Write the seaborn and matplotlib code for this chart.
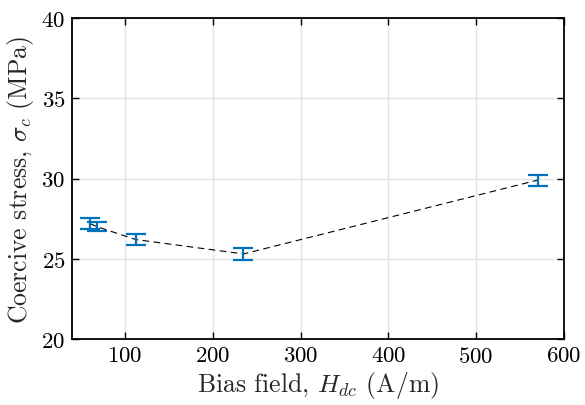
import seaborn as sns
import pandas as pd
import matplotlib.pyplot as plt
import numpy as np

# values
bias_field = [60, 68, 112, 235, 570]          # A/m
coercive_stress = [27.2, 27.0, 26.2, 25.3, 29.9]  # MPa
stress_err = [0.35, 0.3, 0.35, 0.35, 0.35]

sns.set_style("ticks")
plt.rcParams['font.family'] = 'serif'
plt.rcParams['font.serif'] = ['cmr10']
plt.rcParams['mathtext.fontset'] = 'cm'
plt.rcParams['axes.formatter.use_mathtext'] = True

df = pd.DataFrame({"H": bias_field, "sigma": coercive_stress, "err": stress_err})

fig = plt.figure(figsize=(5.85, 4.06), dpi=100)
ax = fig.add_axes([0.1236, 0.1626, 0.964 - 0.1236, 0.953 - 0.1626])

sns.lineplot(data=df, x="H", y="sigma", color="black", linestyle="--",
             linewidth=0.8, dashes=False, ax=ax, zorder=2)
ax.lines[0].set_dashes([6, 4])
ax.errorbar(df["H"], df["sigma"], yerr=df["err"], fmt="none", ecolor="#0072BD",
            elinewidth=1.6, capsize=7.5, capthick=1.6, zorder=3)

ax.set_xlim(40, 600)
ax.set_ylim(20, 40)
ax.set_xticks([100, 200, 300, 400, 500, 600])
ax.set_yticks([20, 25, 30, 35, 40])
ax.grid(True, color="#e3e3e3", linewidth=1.0)
ax.set_axisbelow(True)
ax.tick_params(direction="in", top=True, right=True, length=5, width=1.0,
               labelsize=16.5, colors="black", pad=5)
for s in ax.spines.values():
    s.set_linewidth(1.3)
    s.set_color("black")

ax.set_xlabel(r"Bias field, $H_{dc}$ (A/m)", fontsize=18.5, labelpad=2)
ax.set_ylabel(r"Coercive stress, $\sigma_c$ (MPa)", fontsize=18.5, labelpad=4)

fig.savefig("out.png", dpi=100)
